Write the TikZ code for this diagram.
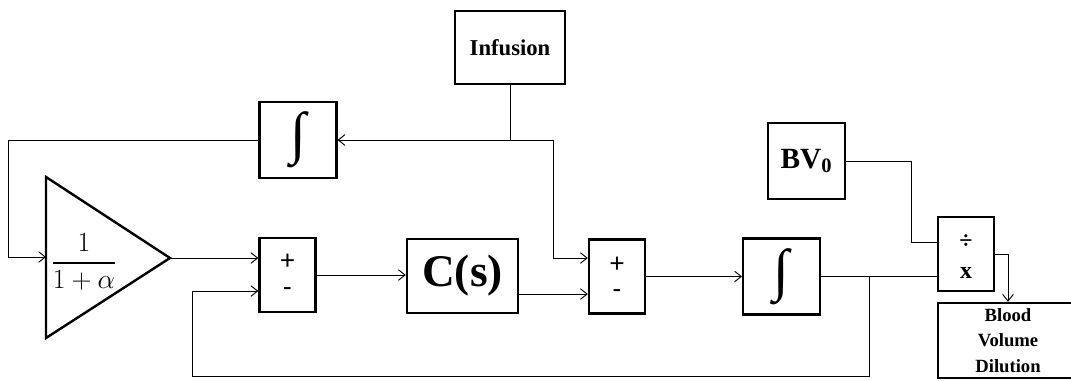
\documentclass[tikz,border=0pt]{standalone}
\usepackage{amsmath}
\usepackage{fontspec}
\setmainfont{Liberation Serif}
\newfontfamily\signfont{Carlito}
\usetikzlibrary{positioning, arrows.meta, calc}

\begin{document}
\begin{tikzpicture}[
    x=0.75pt, y=-0.75pt,
    >={Straight Barb[length=5pt, width=8pt]},
    box/.style={rectangle, draw=black, line width=1.8pt, inner sep=0pt,
                align=center, font=\bfseries},
    ibox/.style={box, minimum width=57.5pt, minimum height=57pt,
                 font=\bfseries\fontsize{43}{43}\selectfont},
    sbox/.style={box, minimum width=42pt, minimum height=55.5pt},
    sign/.style={inner sep=0pt, font=\signfont\fontsize{21}{21}\selectfont},
    opsign/.style={inner sep=0pt, font=\bfseries\fontsize{18}{18}\selectfont},
    arrow/.style={->, line width=0.7pt},
    wire/.style={line width=0.7pt},
]
\useasboundingbox (0,0) rectangle (1071,380);

% === top row ===
\node[box, minimum width=82.5pt, minimum height=55pt,
      font=\bfseries\fontsize{17}{17}\selectfont] (inf) at (510,47.5) {Infusion};
\node[ibox] (intA) at (298,140) {∫};
\node[box, minimum width=57.75pt, minimum height=57pt,
      font=\bfseries\fontsize{22}{22}\selectfont] (bv) at (806.5,161) {BV$_{\textbf{0}}$};

% === gain triangle ===
\coordinate (gTop) at (46,177);
\coordinate (gBot) at (46,338);
\coordinate (gTip) at (170,258);
\coordinate (gIn) at (46,257);
\draw[line width=1.8pt, line join=miter] (gTop) -- (gTip) -- (gBot) -- cycle;
\node[font=\fontsize{22}{22}\selectfont] (gain) at (84,262) {$\displaystyle\frac{1}{1+\alpha}$};

% === main row ===
\node[sbox] (sumA) at (287.5,275) {};
\node[sign] (sumAp) at ($(sumA.center)+(0,-13)$) {+};
\node[sign] (sumAm) at ($(sumA.center)+(0,17)$) {-};
\node[box, minimum width=83.25pt, minimum height=55.5pt,
      font=\bfseries\fontsize{34}{34}\selectfont] (cs) at (462.5,276) {C(s)};
\node[sbox] (sumB) at (617,276.5) {};
\node[sign] (sumBp) at ($(sumB.center)+(0,-12)$) {+};
\node[sign] (sumBm) at ($(sumB.center)+(0,18)$) {-};
\node[ibox] (intB) at (781.5,276.5) {∫};
\node[sbox] (div) at (966,254) {};
\node[opsign] (divd) at ($(div.center)+(0,-12)$) {÷};
\node[opsign] (divx) at ($(div.center)+(0,19)$) {x};
\node[box, minimum width=105pt, minimum height=56.25pt,
      font=\bfseries\fontsize{14}{19}\selectfont] (bvd) at (1008,340.5) {Blood\\Volume\\Dilution};

% input points
\coordinate (sumAin1) at ($(sumA.west)+(0,-17)$);
\coordinate (sumAin2) at ($(sumA.west)+(0,16)$);
\coordinate (sumBin1) at ($(sumB.west)+(0,-18.5)$);
\coordinate (sumBin2) at ($(sumB.west)+(0,17.5)$);
\coordinate (divIn1) at ($(div.west)+(0,-12)$);

% === connectors ===
\draw[wire] (inf.south) -- (inf.south |- intA.east) coordinate (jInf);
\draw[arrow] (jInf) -- (intA.east);
\draw[arrow] (jInf) -- ++(43,0) |- (sumBin1);
\draw[arrow] (intA.west) -- ++(-250,0) |- (gIn);
\draw[arrow] (gTip) -- (sumAin1);
\draw[arrow] (sumA.east) -- (sumA.east -| cs.west);
\draw[arrow] (cs.east |- sumBin2) -- (sumBin2);
\draw[arrow] (sumB.east) -- (intB.west);
\draw[wire] (intB.east) -- (intB.east -| div.west);
\draw[wire] (bv.east) -- ++(65,0) |- (divIn1);
\draw[arrow] (div.east) -| (bvd.north);

% feedback
\coordinate (jFb) at ($(intB.east)+(48,0)$);
\coordinate (fbLow) at (192,376);
\draw[arrow] (jFb) |- (fbLow) |- (sumAin2);

\end{tikzpicture}
\end{document}
